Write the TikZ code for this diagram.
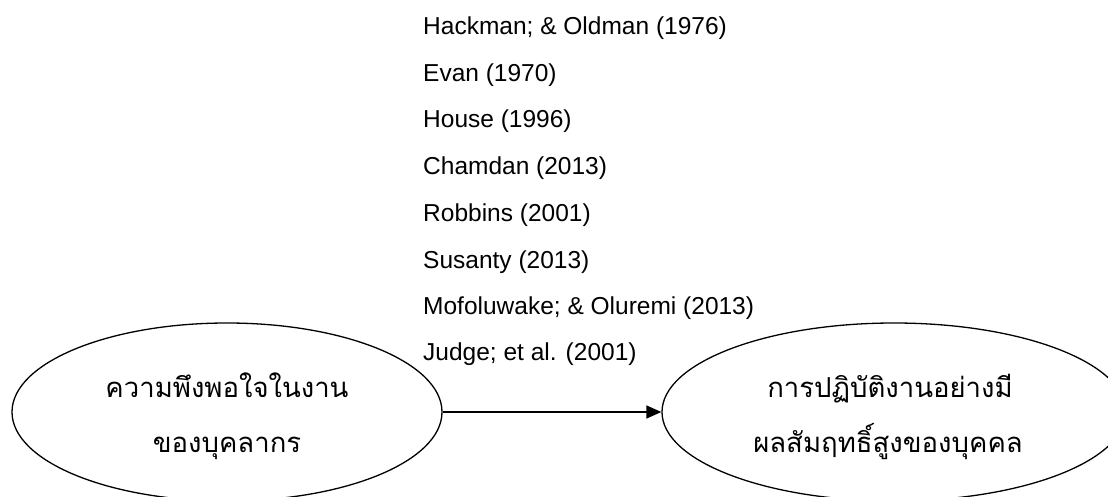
\documentclass[tikz,border=0pt]{standalone}
\usepackage{fontspec}
\setmainfont{Liberation Sans}
\newfontfamily\thaifont[Script=Thai]{Loma}
\usetikzlibrary{shapes.geometric,arrows.meta}
\begin{document}
\begin{tikzpicture}[x=1pt,y=-1pt,
  concept/.style={ellipse,draw,line width=1.3pt,inner sep=0pt},
  thaitext/.style={font=\thaifont\fontsize{27.5}{27.5}\selectfont,anchor=base,inner sep=0pt},
  ref/.style={font=\fontsize{24.5}{24.5}\selectfont,anchor=base west,inner sep=0pt},
  link/.style={line width=1.5pt,-{Triangle[length=15pt,width=13pt]}}]
\useasboundingbox (0,0) rectangle (1108,497);
\clip (0,0) rectangle (1108,497);

% the two concepts
\node[concept,minimum width=430,minimum height=178] (sat) at (227,412) {};
\node[concept,minimum width=464,minimum height=178] (perf) at (894,412) {};

\node[thaitext] (sat1) at (227,397) {ความพึงพอใจในงาน};
\node[thaitext] (sat2) at (227,452) {ของบุคลากร};
\node[thaitext] (perf1) at (890,397) {การปฏิบัติงานอย่างมี};
\node[thaitext] (perf2) at (888,452) {ผลสัมฤทธิ์สูงของบุคคล};

% supporting sources
\node[ref] (r1) at (423,35)  {Hackman; \& Oldman (1976)};
\node[ref] (r2) at (423,82)  {Evan (1970)};
\node[ref] (r3) at (423,128) {House (1996)};
\node[ref] (r4) at (423,175) {Chamdan (2013)};
\node[ref] (r5) at (423,222) {Robbins (2001)};
\node[ref] (r6) at (423,268) {Susanty (2013)};
\node[ref] (r7) at (423,314) {Mofoluwake; \& Oluremi (2013)};
\node[ref] (r8) at (423,360) {Judge; et al. (2001)};

% relation
\draw[link] (sat.east) -- (perf.west);
\end{tikzpicture}
\end{document}
